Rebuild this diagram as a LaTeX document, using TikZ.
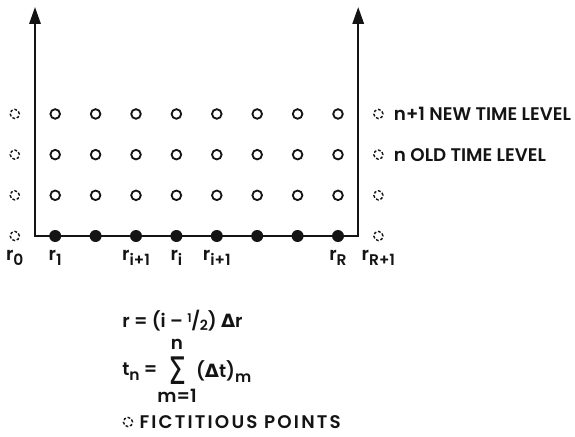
\documentclass[tikz,border=0pt]{standalone}
\usepackage{fontspec}
\setmainfont{Poppins}[BoldFont={* SemiBold}]
\newfontfamily\symfont{DejaVu Sans}
\usetikzlibrary{positioning, arrows.meta}
\definecolor{inkblack}{RGB}{20,20,20}
\def\axisStroke{1.6pt}
\def\circStroke{1.3pt}
\def\fictStroke{1.0pt}
\newcommand{\lsub}[1]{\raisebox{-0.5ex}{\fontsize{11}{11}\selectfont #1}}
\newcommand{\halfsym}{\raisebox{0.55ex}{\fontsize{8.5}{8.5}\selectfont 1}\kern-0.02em/\kern-0.02em\raisebox{-0.3ex}{\fontsize{10}{10}\selectfont 2}}

\tikzset{
  gridpt/.style={circle, draw=inkblack, line width=\circStroke, minimum size=0.24cm, inner sep=0pt},
  solidpt/.style={circle, fill=inkblack, minimum size=0.3cm, inner sep=0pt},
  fictpt/.style={circle, draw=inkblack, line width=\fictStroke, dash pattern=on 2pt off 1.3pt, minimum size=0.23cm, inner sep=0pt},
  rlabel/.style={anchor=base, font=\bfseries\fontsize{13}{15}\selectfont, text=inkblack, inner sep=0pt},
  lettering/.style={font=\bfseries\fontsize{13}{15}\selectfont, text=inkblack, inner sep=0pt},
}

\begin{document}
\begin{tikzpicture}

% Grid dimensions
\def\colw{1.01cm}
\def\rowh{1.017cm}
\def\axish{5.725cm}

\useasboundingbox (-0.875,-5.0) rectangle (13.5,5.9);

% Axes
\coordinate (axis-top-left) at (0, \axish);
\coordinate (axis-top-right) at (8*\colw, \axish);
\coordinate (corner-left) at (0, 0);
\coordinate (corner-right) at (8*\colw, 0);
\draw[inkblack, line width=\axisStroke,
  {Triangle[length=0.42cm,width=0.28cm]}-{Triangle[length=0.42cm,width=0.28cm]}]
  (axis-top-left) -- (corner-left) -- (corner-right) -- (axis-top-right);

% --- Interior points, upper time levels ---
\foreach \j in {1,2,3} {
  \foreach \i in {0,...,7} {
    \node[gridpt] (pt-\i-\j) at ({(\i+0.5)*\colw}, {\j*\rowh}) {};
  }
}

% --- Boundary level (filled) ---
\foreach \i in {0,...,7} {
  \node[solidpt] (pt-\i-0) at ({(\i+0.5)*\colw}, 0) {};
}

% --- Fictitious points ---
\foreach \j in {0,...,3} {
  \node[fictpt] (fict-l-\j) at ({-0.5*\colw}, {\j*\rowh}) {};
  \node[fictpt] (fict-r-\j) at ({8.5*\colw}, {\j*\rowh}) {};
}

% Time level labels
\node[lettering, right=0.25cm of fict-r-3] (new-level) {n+1 NEW TIME LEVEL};
\node[lettering, right=0.25cm of fict-r-2] (old-level) {n OLD TIME LEVEL};

% Radius labels
\node[rlabel] (lab-r0) at ({-0.5*\colw}, -0.6) {r\lsub{0}};
\node[rlabel] (lab-r1) at ({0.5*\colw}, -0.6) {r\lsub{1}};
\node[rlabel] (lab-rim) at ({2.5*\colw}, -0.6) {r\lsub{i+1}};
\node[rlabel] (lab-ri) at ({3.5*\colw}, -0.6) {r\lsub{i}};
\node[rlabel] (lab-rip) at ({4.5*\colw}, -0.6) {r\lsub{i+1}};
\node[rlabel] (lab-rR) at ({7.5*\colw}, -0.6) {r\lsub{R}};
\node[rlabel] (lab-rR1) at ({8.5*\colw}, -0.6) {r\lsub{R+1}};

% Definitions
\node[lettering, anchor=west] (r-def) at (2.175, -2.12) {r = (i – \halfsym) {\symfont\bfseries Δ}r};
\node[lettering, anchor=west] (t-def) at (2.175, -3.4) {t\lsub{n} =};
\node[lettering, font=\symfont\fontsize{27}{27}\selectfont] (sum-sign) at (3.55, -3.36) {\scalebox{0.75}[1]{Σ}};
\node[lettering] (sum-top) at (3.55, -2.7) {n};
\node[lettering] (sum-bot) at (3.55, -4.0) {m=1};
\node[lettering, anchor=west] (dt-sum) at (4.02, -3.4) {({\symfont\bfseries Δ}t)\lsub{m}};

% Legend
\node[fictpt] (fict-key) at (2.325, -4.65) {};
\node[lettering, right=0.15cm of fict-key, font=\bfseries\fontsize{13}{15}\selectfont\addfontfeature{LetterSpace=12}] (fict-text) {FICTITIOUS POINTS};

\end{tikzpicture}
\end{document}
